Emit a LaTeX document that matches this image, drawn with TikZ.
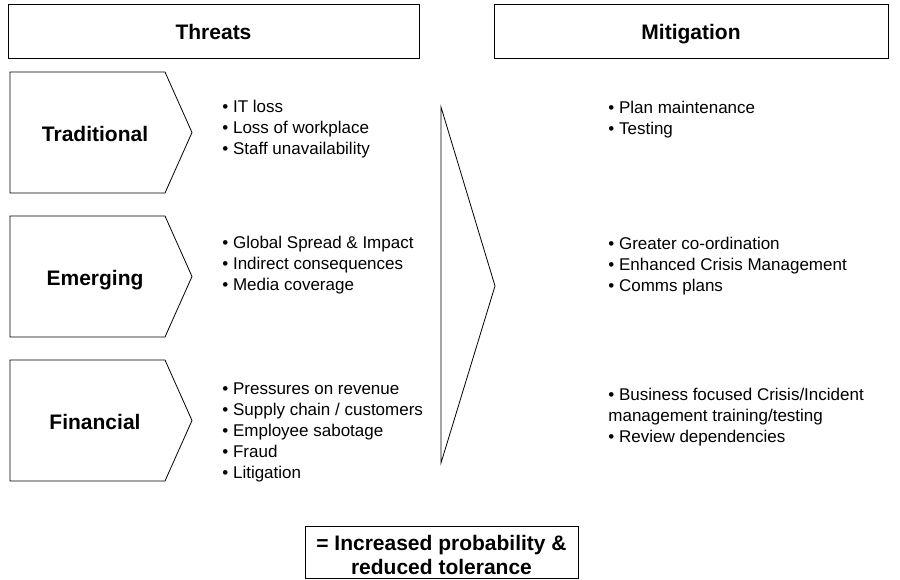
\documentclass[tikz,border=0pt]{standalone}
\usepackage{fontspec}
\setmainfont{Liberation Sans}
\usetikzlibrary{positioning}
\tikzstyle{header} = [
  rectangle, draw, minimum width = 411pt, minimum height = 54pt,
  text height = 17pt, text depth = 0pt,
  font = \fontsize{21}{24}\selectfont\bfseries
]
\tikzstyle{chevlabel} = [
  inner sep = 0pt, text height = 15pt, text depth = 0pt,
  font = \fontsize{21}{24}\selectfont\bfseries
]
\tikzstyle{items} = [
  align = left, anchor = west, inner sep = 0pt,
  font = \fontsize{17}{21}\selectfont
]
\begin{document}
\begin{tikzpicture}[x=1pt, y=-1pt, line width=0.8pt]
    \useasboundingbox (0,0) rectangle (900,580);
    \node[header] (threats) at (213.5,31) {Threats};
    \node[header, minimum width = 394pt] (mitigation) at (691,31) {Mitigation};

    % the three threat chevrons
    \foreach \name/\txt/\top in {trad/Traditional/72, emerg/Emerging/216, fin/Financial/360} {
      \draw (10,\top) -- (165,\top) -- (192,\top+60.5) -- (165,\top+121) -- (10,\top+121) -- cycle;
      \node[chevlabel] (\name) at (95,\top+62) {\txt};
    }

    \node[items] (tradlist) at (222,129) {• IT loss\\• Loss of workplace\\• Staff unavailability};
    \node[items] (emerglist) at (222,265.5) {• Global Spread \& Impact\\• Indirect consequences\\• Media coverage};
    \node[items] (finlist) at (222,432) {• Pressures on revenue\\• Supply chain / customers\\• Employee sabotage\\• Fraud\\• Litigation};

    % big arrow between the two columns
    \coordinate (arrtop) at (441,107);
    \coordinate (arrtip) at (495,286);
    \coordinate (arrbot) at (441,463);
    \draw (arrtop) -- (arrtip) -- (arrbot) -- cycle;

    \node[items] (tradmit) at (608,119.5) {• Plan maintenance\\• Testing};
    \node[items] (emergmit) at (608,266) {• Greater co-ordination\\• Enhanced Crisis Management\\• Comms plans};
    \node[items] (finmit) at (608,417) {• Business focused Crisis/Incident\\management training/testing\\• Review dependencies};

    \node[rectangle, draw, align=center, minimum width = 273pt, minimum height = 52pt,
      text height = 45pt, font = \fontsize{21}{24}\selectfont\bfseries] (result) at (441.5,552)
      {= Increased probability \&\\reduced tolerance};
\end{tikzpicture}
\end{document}
